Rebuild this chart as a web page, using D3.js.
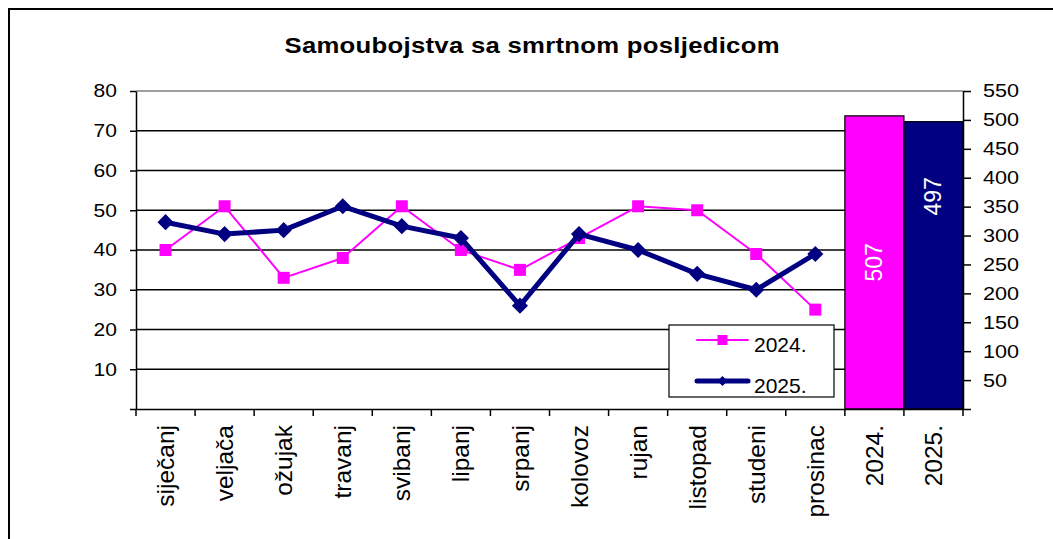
<!DOCTYPE html>
<html lang="hr">
<head>
    <meta charset="UTF-8">
    <title>Samoubojstva sa smrtnom posljedicom</title>
    <script src="https://cdn.jsdelivr.net/npm/d3@7/dist/d3.min.js"></script>
    <style>
        body { margin: 0; background: #fff; }
        text { font-family: "Liberation Sans", Arial, sans-serif; }
    </style>
</head>
<body>
    <svg width="1053" height="539" id="mainsvg"></svg>
    <script>
        // podaci
        const months = ['siječanj', 'veljača', 'ožujak', 'travanj', 'svibanj', 'lipanj',
                        'srpanj', 'kolovoz', 'rujan', 'listopad', 'studeni', 'prosinac'];
        const years = ['2024.', '2025.'];
        const values2024 = [40, 51, 33, 38, 51, 40, 35, 43, 51, 50, 39, 25];
        const values2025 = [47, 44, 45, 51, 46, 43, 26, 44, 40, 34, 30, 39];
        const totals = [507, 497];
        const leftTicks = [0, 10, 20, 30, 40, 50, 60, 70, 80];
        const rightTicks = [0, 50, 100, 150, 200, 250, 300, 350, 400, 450, 500, 550];

        const colors = { '2024.': '#ff00ff', '2025.': '#000080' };

        const svg = d3.select('#mainsvg');
        const plot = { left: 136, right: 963, top: 91, bottom: 409 };
        const stretch = 1.17; // tekst je u originalu malo razvučen vodoravno

        // okvir
        svg.append('rect').attr('x', 9).attr('y', 9).attr('width', 1100).attr('height', 600)
            .attr('fill', 'none').attr('stroke', '#000').attr('stroke-width', 2);

        // naslov
        svg.append('text').text('Samoubojstva sa smrtnom posljedicom')
            .attr('transform', `translate(532, 52.5) scale(1.19, 1)`)
            .attr('text-anchor', 'middle')
            .attr('font-size', '21.6px').attr('font-weight', 'bold')
            .attr('textLength', 416).attr('lengthAdjust', 'spacing');

        // skale
        const xScale = d3.scaleBand().domain([...months, ...years])
            .range([plot.left, plot.right]).padding(0);
        const yLeft = d3.scaleLinear().domain([0, 80]).range([plot.bottom, plot.top]);
        const yRight = d3.scaleLinear().domain([0, 550]).range([plot.bottom, plot.top]);
        const bw = xScale.bandwidth();
        const cx = m => xScale(m) + bw / 2;

        // mreža
        svg.append('g').selectAll('line').data(leftTicks.filter(d => d > 0)).join('line')
            .attr('x1', plot.left).attr('x2', plot.right)
            .attr('y1', d => yLeft(d)).attr('y2', d => yLeft(d))
            .attr('stroke', d => d === 80 ? '#808080' : '#000').attr('stroke-width', 1.5);

        // stupci (ukupno)
        svg.append('g').selectAll('rect').data(years).join('rect')
            .attr('x', d => xScale(d)).attr('width', bw)
            .attr('y', (d, i) => yRight(totals[i]))
            .attr('height', (d, i) => plot.bottom - yRight(totals[i]))
            .attr('fill', d => colors[d]).attr('stroke', '#000').attr('stroke-width', 1.2);

        const labelPos = [0.5, 0.74];
        svg.append('g').selectAll('text').data(years).join('text')
            .attr('transform', (d, i) => `translate(${cx(d)}, ${yRight(totals[i] * labelPos[i])}) rotate(-90)`)
            .attr('text-anchor', 'middle').attr('dominant-baseline', 'central')
            .attr('fill', '#fff').attr('font-size', '23px')
            .text((d, i) => totals[i]);

        // osi
        const leftAxis = d3.axisLeft(yLeft).tickValues(leftTicks)
            .tickFormat(d => d === 0 ? '' : d).tickSize(6).tickSizeOuter(0).tickPadding(13);
        const leftG = svg.append('g').attr('transform', `translate(${plot.left},0)`).call(leftAxis);

        const rightAxis = d3.axisRight(yRight).tickValues(rightTicks)
            .tickFormat(d => d === 0 ? '' : d).tickSize(8).tickSizeOuter(0).tickPadding(12);
        const rightG = svg.append('g').attr('transform', `translate(${plot.right},0)`).call(rightAxis);

        const bottomAxis = d3.axisBottom(xScale).tickSize(0).tickSizeOuter(0);
        const bottomG = svg.append('g').attr('transform', `translate(0,${plot.bottom})`).call(bottomAxis);
        bottomG.selectAll('.tick text')
            .attr('transform', 'rotate(-90)').attr('x', -16).attr('y', 0).attr('dy', '0.35em')
            .attr('text-anchor', 'end').attr('font-size', '24.5px');
        // crtice na granicama kategorija
        bottomG.append('g').selectAll('line')
            .data([...xScale.domain().map(d => xScale(d)), plot.right]).join('line')
            .attr('x1', d => d).attr('x2', d => d).attr('y1', 0).attr('y2', 7)
            .attr('stroke', '#000').attr('stroke-width', 1.5);

        [leftG, rightG, bottomG].forEach(g => {
            g.select('.domain').attr('stroke', '#000').attr('stroke-width', 1.5);
            g.selectAll('.tick line').attr('stroke', '#000').attr('stroke-width', 1.5);
            g.selectAll('.tick text').attr('fill', '#000').style('font-family', '"Liberation Sans", Arial, sans-serif');
        });
        leftG.selectAll('.tick text').attr('font-size', '18px')
            .attr('x', -19 / stretch).attr('transform', `scale(${stretch},1)`);
        rightG.selectAll('.tick text').attr('font-size', '18.5px')
            .attr('x', 20 / stretch).attr('transform', `scale(${stretch},1)`);

        // linije
        const line = d3.line().x((d, i) => cx(months[i])).y(d => yLeft(d));
        const series = [
            { name: '2024.', values: values2024, width: 2, sym: d3.symbol().type(d3.symbolSquare).size(144)(), rot: 0 },
            { name: '2025.', values: values2025, width: 5, sym: d3.symbol().type(d3.symbolSquare).size(130)(), rot: 45 }
        ];
        series.forEach(s => {
            const g = svg.append('g');
            g.append('path').datum(s.values).attr('d', line)
                .attr('fill', 'none').attr('stroke', colors[s.name])
                .attr('stroke-width', s.width).attr('stroke-linejoin', 'round');
            g.selectAll('path.marker').data(s.values).join('path').attr('class', 'marker')
                .attr('d', s.sym).attr('fill', colors[s.name])
                .attr('transform', (d, i) => `translate(${cx(months[i])},${yLeft(d)}) rotate(${s.rot})`);
        });

        // legenda
        const legend = svg.append('g');
        legend.append('rect').attr('x', 669).attr('y', 325).attr('width', 165).attr('height', 72)
            .attr('fill', '#fff').attr('stroke', '#000').attr('stroke-width', 1.2);
        const legendSyms = [
            d3.symbol().type(d3.symbolSquare).size(100)(),
            d3.symbol().type(d3.symbolSquare).size(50)()
        ];
        series.forEach((s, i) => {
            const ly = 340 + i * 41;
            legend.append('line').attr('x1', 697).attr('x2', 748).attr('y1', ly).attr('y2', ly)
                .attr('stroke', colors[s.name]).attr('stroke-width', s.width).attr('stroke-linecap', 'round');
            legend.append('path').attr('d', legendSyms[i]).attr('fill', colors[s.name])
                .attr('transform', `translate(722.5,${ly}) rotate(${s.rot})`);
            legend.append('text').text(s.name).attr('x', 754).attr('y', ly + 12)
                .attr('font-size', '21px').attr('fill', '#000');
        });
    </script>
</body>
</html>
